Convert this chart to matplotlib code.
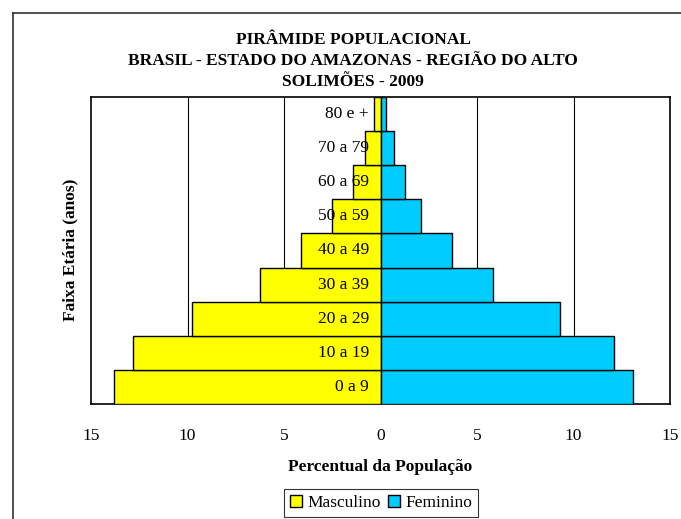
import matplotlib
matplotlib.use("Agg")
import matplotlib.pyplot as plt
from matplotlib.patches import Patch
from matplotlib.lines import Line2D

categories = ["0 a 9", "10 a 19", "20 a 29", "30 a 39", "40 a 49",
              "50 a 59", "60 a 69", "70 a 79", "80 e +"]
masculino = [13.80, 12.80, 9.76, 6.24, 4.10, 2.52, 1.45, 0.80, 0.36]
feminino = [13.06, 12.11, 9.28, 5.84, 3.70, 2.09, 1.29, 0.70, 0.26]
xticks = [-15, -10, -5, 0, 5, 10, 15]
xticklabels = ["15", "10", "5", "0", "5", "10", "15"]

plt.rcParams['font.family'] = ['Liberation Serif', 'DejaVu Serif']
FS = 12.5

W, H = 681, 519
fig = plt.figure(figsize=(W/100, H/100), dpi=100)
ax = fig.add_axes([91/W, 1-404/H, (670-91)/W, (404-97)/H])

y = list(range(len(categories)))
ax.barh(y, [-m for m in masculino], height=1.0, color="#FFFF00",
        edgecolor="black", linewidth=1.0, label="Masculino", zorder=3)
ax.barh(y, feminino, height=1.0, color="#00CCFF",
        edgecolor="black", linewidth=1.0, label="Feminino", zorder=3)

ax.set_xlim(-15, 15)
ax.set_ylim(-0.5, len(categories) - 0.5)
ax.set_xticks(xticks)
ax.set_xticklabels(xticklabels, fontsize=FS)
ax.tick_params(axis='x', length=0, pad=17)
ax.set_yticks([])
for gx in [-10, -5, 5, 10]:
    ax.axvline(gx, color="black", linewidth=0.8, zorder=1)
for s in ax.spines.values():
    s.set_linewidth(1.2)

for yi, c in zip(y, categories):
    ax.text(-0.6, yi, c, ha="right", va="center", fontsize=FS, zorder=5)

fig.text(380/W, 1-467/H, "Percentual da População", ha="center", va="center",
         fontsize=FS, fontweight="bold")
fig.text(70/W, 1-250/H, "Faixa Etária (anos)", ha="center", va="center",
         rotation=90, fontsize=FS, fontweight="bold")

fig.text(353/W, 1-40/H, "PIRÂMIDE POPULACIONAL", ha="center", va="center",
         fontsize=FS, fontweight="bold")
fig.text(353/W, 1-61/H, "BRASIL - ESTADO DO AMAZONAS - REGIÃO DO ALTO", ha="center",
         va="center", fontsize=FS, fontweight="bold")
fig.text(353/W, 1-82/H, "SOLIMÕES - 2009", ha="center", va="center",
         fontsize=FS, fontweight="bold")

handles = [Patch(facecolor="#FFFF00", edgecolor="black", label="Masculino"),
           Patch(facecolor="#00CCFF", edgecolor="black", label="Feminino")]
leg = fig.legend(handles=handles, loc="upper left", bbox_to_anchor=(284/W, 1-489/H),
                 ncol=2, fontsize=FS, frameon=True, fancybox=False,
                 handlelength=0.7, handleheight=0.7, handletextpad=0.3,
                 columnspacing=0.4, borderpad=0.35, borderaxespad=0)
leg.get_frame().set_edgecolor("black")
leg.get_frame().set_linewidth(0.8)

fig.add_artist(Line2D([13/W, 13/W], [0, 1-13/H], transform=fig.transFigure,
                      color="#333333", linewidth=1.2))
fig.add_artist(Line2D([13/W, 1], [1-13/H, 1-13/H], transform=fig.transFigure,
                      color="#333333", linewidth=1.2))

fig.savefig("out.png", dpi=100)
